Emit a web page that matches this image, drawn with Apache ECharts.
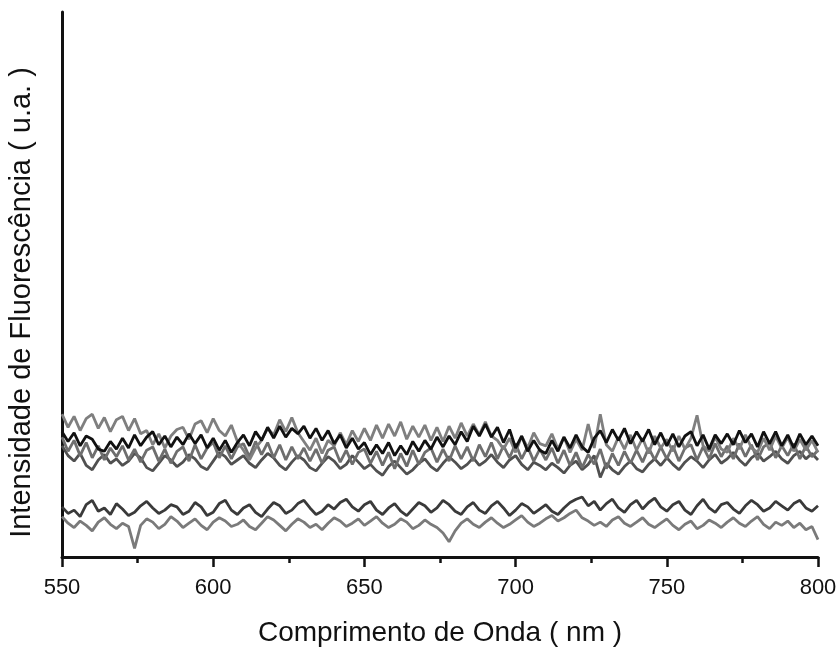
<!DOCTYPE html>
<html>
<head>
<meta charset="utf-8">
<script src="https://cdn.jsdelivr.net/npm/echarts@6/dist/echarts.min.js"></script>
<style>
  html, body { margin: 0; padding: 0; background: #fff; }
  #chart { width: 837px; height: 647px; }
</style>
</head>
<body>
<div id="chart"></div>
<script>
// Wavelength axis (nm), one sample every 2 nm from 550 to 800
const wavelengths = [];
for (let w = 550; w <= 800; w += 2) wavelengths.push(w);

const xTicks = [550, 600, 650, 700, 750, 800];

// Fluorescence intensity (a.u.) for each sample
const sampleA = [
  230, 212, 228, 204, 222, 216, 198, 194, 212, 198,
  218, 200, 224, 204, 220, 230, 206, 222, 202, 220,
  206, 226, 208, 224, 200, 218, 196, 214, 192, 210,
  224, 204, 230, 214, 238, 218, 240, 220, 236, 226,
  240, 218, 236, 214, 232, 208, 224, 200, 218, 198,
  210, 188, 206, 190, 210, 186, 204, 188, 212, 194,
  214, 198, 220, 202, 222, 206, 230, 212, 240, 222,
  244, 220, 238, 210, 234, 200, 222, 194, 214, 196,
  190, 214, 194, 220, 200, 224, 202, 192, 218, 232,
  210, 234, 214, 236, 208, 230, 212, 234, 206, 228,
  204, 226, 202, 222, 230, 204, 224, 198, 224, 208,
  226, 206, 232, 210, 226, 202, 230, 208, 230, 204,
  224, 200, 226, 206, 222, 204
];
const sampleB = [
  262, 238, 258, 232, 254, 262, 236, 256, 230, 252,
  258, 232, 254, 226, 232, 206, 226, 200, 222, 234,
  238, 216, 244, 250, 228, 254, 232, 222, 242, 212,
  196, 178, 200, 214, 236, 224, 252, 230, 256, 228,
  212, 196, 218, 190, 214, 204, 228, 206, 232, 212,
  236, 214, 242, 218, 244, 222, 248, 216, 240, 220,
  242, 214, 238, 212, 240, 218, 246, 222, 244, 224,
  248, 222, 214, 198, 218, 192, 222, 200, 228, 208,
  204, 226, 198, 220, 192, 216, 196, 244, 200, 262,
  206, 194, 220, 198, 224, 196, 218, 190, 222, 200,
  216, 194, 222, 198, 218, 260, 204, 194, 220, 198,
  192, 218, 198, 224, 200, 192, 218, 196, 222, 200,
  220, 194, 216, 196, 214, 192
];
const sampleC = [
  220, 194, 214, 186, 210, 182, 204, 178, 200, 184,
  204, 178, 198, 174, 196, 202, 176, 198, 172, 194,
  202, 176, 206, 180, 200, 210, 182, 204, 180, 202,
  208, 184, 212, 188, 210, 182, 206, 178, 202, 180,
  200, 176, 198, 172, 196, 202, 174, 196, 170, 192,
  198, 172, 194, 168, 192, 162, 190, 166, 196, 170,
  192, 200, 174, 198, 176, 204, 180, 202, 176, 206,
  184, 210, 180, 204, 182, 208, 180, 202, 176, 198,
  178, 200, 172, 196, 168, 192, 164, 188, 170, 198,
  162, 190, 168, 194, 172, 196, 174, 200, 178, 202,
  180, 204, 176, 200, 206, 178, 202, 180, 208, 184,
  204, 180, 208, 184, 206, 178, 202, 210, 182, 204,
  186, 208, 180, 204, 184, 196
];
const sampleD = [
  204, 186, 176, 190, 168, 160, 178, 188, 172, 180,
  168, 176, 190, 182, 164, 158, 172, 186, 178, 166,
  174, 188, 180, 166, 160, 176, 192, 184, 170, 178,
  186, 172, 164, 178, 190, 182, 168, 160, 174, 186,
  178, 164, 158, 172, 184, 176, 162, 170, 186, 174,
  162, 170, 158, 150, 166, 176, 164, 152, 160, 172,
  180, 166, 158, 172, 184, 174, 162, 170, 182, 168,
  176, 188, 174, 164, 178, 186, 170, 160, 174, 168,
  160, 172, 164, 154, 168, 176, 160, 170, 186, 146,
  172, 160, 152, 166, 176, 162, 156, 170, 180, 168,
  182, 170, 160, 174, 184, 176, 164, 178, 188, 172,
  180, 192, 178, 168, 182, 190, 176, 184, 194, 180,
  172, 186, 194, 180, 190, 178
];
const sampleE = [
  92, 80, 86, 74, 96, 104, 84, 90, 78, 98,
  88, 76, 82, 94, 102, 90, 80, 86, 96, 92,
  78, 84, 100, 92, 76, 82, 98, 104, 86, 78,
  90, 96, 82, 74, 88, 100, 94, 80, 86, 98,
  104, 90, 78, 84, 96, 88, 100, 106, 92, 84,
  96, 102, 86, 78, 90, 98, 84, 76, 88, 100,
  94, 82, 90, 104, 96, 84, 78, 92, 100, 86,
  80, 94, 102, 90, 76, 86, 98, 92, 80, 88,
  96, 84, 78, 90, 100, 106, 110, 94, 102, 86,
  98, 106, 90, 82, 96, 104, 88, 100, 108, 92,
  84, 96, 102, 86, 78, 94, 106, 90, 82, 96,
  100, 88, 80, 94, 104, 96, 84, 90, 102, 94,
  86, 98, 104, 90, 84, 94
];
const sampleF = [
  74, 62, 54, 66, 58, 48, 64, 72, 60, 52,
  62, 56, 16, 58, 70, 64, 52, 60, 74, 66,
  54, 62, 70, 58, 50, 64, 72, 66, 56, 60,
  68, 56, 50, 62, 74, 68, 58, 48, 60, 70,
  64, 54, 60, 50, 62, 72, 66, 56, 62, 70,
  58, 66, 74, 62, 54, 60, 70, 64, 52, 58,
  68, 60, 54, 44, 28, 48, 62, 70, 60, 54,
  64, 72, 62, 54, 60, 68, 76, 64, 56, 62,
  70, 76, 66, 72, 80, 86, 72, 66, 58, 64,
  56, 68, 74, 62, 56, 64, 72, 60, 54, 62,
  70, 58, 50, 60, 66, 52, 58, 68, 62, 54,
  64, 72, 62, 56, 66, 74, 60, 52, 64, 58,
  66, 54, 62, 50, 56, 32
];

const seriesList = [
  { data: sampleF, color: '#7a7a7a' },
  { data: sampleE, color: '#3a3a3a' },
  { data: sampleD, color: '#505050' },
  { data: sampleC, color: '#6e6e6e' },
  { data: sampleB, color: '#7f7f7f' },
  { data: sampleA, color: '#111111' }
];

const font = '"Liberation Sans", Arial, sans-serif';

const chart = echarts.init(document.getElementById('chart'), null, { renderer: 'canvas' });
chart.setOption({
  animation: false,
  backgroundColor: '#ffffff',
  grid: { left: 62, right: 19, top: 12, bottom: 90, outerBoundsMode: 'none', containLabel: false },
  xAxis: {
    type: 'value',
    min: xTicks[0],
    max: xTicks[xTicks.length - 1],
    interval: 50,
    name: 'Comprimento de Onda ( nm )',
    nameLocation: 'middle',
    nameGap: 62,
    nameTextStyle: { fontFamily: font, fontSize: 28, color: '#111' },
    axisLine: { show: true, lineStyle: { color: '#111', width: 3 } },
    axisTick: { show: true, inside: false, length: 10, lineStyle: { color: '#111', width: 2.5 } },
    minorTick: { show: true, splitNumber: 2, length: 6, lineStyle: { color: '#111', width: 2.5 } },
    axisLabel: { fontFamily: font, fontSize: 22, color: '#111', margin: 20 },
    splitLine: { show: false }
  },
  yAxis: {
    type: 'value',
    min: 0,
    max: 1000,
    name: 'Intensidade de Fluorescência ( u.a. )',
    nameLocation: 'middle',
    nameGap: 26,
    nameTextStyle: { fontFamily: font, fontSize: 29, color: '#111', padding: [0, 36, 0, 0] },
    axisLine: { show: true, lineStyle: { color: '#111', width: 3 } },
    axisTick: { show: false },
    axisLabel: { show: false },
    splitLine: { show: false }
  },
  series: seriesList.map(s => ({
    type: 'line',
    showSymbol: false,
    data: wavelengths.map((w, i) => [w, s.data[i]]),
    lineStyle: { color: s.color, width: 2.8 },
    itemStyle: { color: s.color },
    z: 2
  }))
});
</script>
</body>
</html>
